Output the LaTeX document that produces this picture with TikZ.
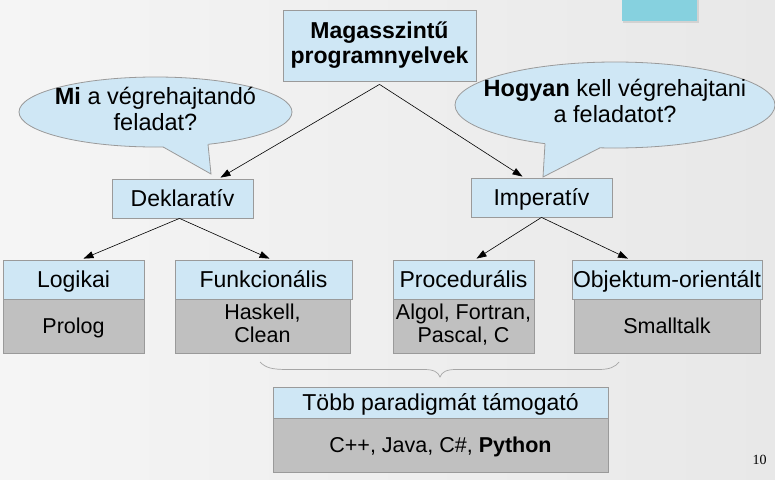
\documentclass[tikz,border=0pt]{standalone}
\usepackage{fontspec}
\setmainfont{Liberation Sans}
\newfontfamily\serifnum{Liberation Serif}
\usetikzlibrary{arrows.meta,calc}
\definecolor{hdr}{HTML}{CFE7F5}
\definecolor{bodyg}{HTML}{C0C0C0}
\definecolor{edgeg}{HTML}{9A9A9A}
\definecolor{tealc}{HTML}{86D1DF}
\definecolor{bgl}{HTML}{F5F5F5}
\definecolor{bgr}{HTML}{E8E8E8}
\newcommand{\topstrut}{\rule{0pt}{0.966em}}
\newcommand{\botstrut}{\rule[-0.25em]{0pt}{0.25em}}
\begin{document}
\begin{tikzpicture}[x=1pt,y=-1pt,
  box/.style={draw=edgeg,line width=0.8pt,inner sep=0pt,align=center,
    execute at begin node=\topstrut,execute at end node=\botstrut},
  hdrbox/.style={box,fill=hdr,font=\fontsize{23}{24.5}\selectfont},
  bodybox/.style={box,fill=bodyg,font=\fontsize{21.5}{23}\selectfont},
  bubtext/.style={inner sep=0pt,align=center,font=\fontsize{23.5}{25.5}\selectfont,
    execute at begin node=\topstrut,execute at end node=\botstrut},
  bubline/.style={draw=edgeg,line width=0.8pt},
  arr/.style={-{Triangle[length=10pt,width=7pt]},line width=0.6pt,black},
  bracestyle/.style={draw=gray!70,line width=0.7pt},
]
\useasboundingbox (0,0) rectangle (775,479);
\shade[left color=bgl,right color=bgr] (0,0) rectangle (775,479);
% top-right decoration
\fill[gray!35] (623,0) rectangle (698.5,22.5);
\fill[tealc] (622,0) rectangle (697,21);

% top node
\node[hdrbox,font=\bfseries\fontsize{23}{24.5}\selectfont,minimum width=193pt,minimum height=71pt] (top) at (379.5,45.5) {Magasszintű\\programnyelvek};

% bubble Mi
\filldraw[fill=hdr,bubline] (155.5,112) ellipse [x radius=136.5,y radius=35];
\fill[hdr] (163,146.9) -- (211,174) -- (208,144.3) -- (208,138) -- (163,138) -- cycle;
\draw[bubline] (163,146.9) -- (211,174) -- (208,144.3);
\node[bubtext] (mi) at (155.5,112) {\textbf{Mi} a végrehajtandó\\feladat?};

% bubble Hogyan
\filldraw[fill=hdr,bubline] (615,105) ellipse [x radius=160,y radius=43];
\fill[hdr] (545,143.7) -- (543,177) -- (600,147.8) -- (600,138) -- (545,138) -- cycle;
\draw[bubline] (545,143.7) -- (543,177) -- (600,147.8);
\node[bubtext] (hogy) at (615,104) {\textbf{Hogyan} kell végrehajtani\\a feladatot?};

% second level
\node[hdrbox,minimum width=141pt,minimum height=39pt] (dekl) at (182.5,198.5) {Deklaratív};
\node[hdrbox,minimum width=141pt,minimum height=39pt] (imp) at (541.5,197.5) {Imperatív};

% bodies
\node[bodybox,minimum width=141pt,minimum height=54pt] (logb) at (73.5,326) {Prolog};
\node[bodybox,minimum width=175pt,minimum height=54pt] (funb) at (262.5,326) {Haskell,\\Clean};
\node[bodybox,minimum width=141pt,minimum height=54pt] (prob) at (463.5,326) {Algol, Fortran,\\Pascal, C};
\node[bodybox,minimum width=186pt,minimum height=54pt] (objb) at (667,326) {Smalltalk};

% headers
\node[hdrbox,minimum width=141pt,minimum height=39pt] (log) at (73.5,279.5) {Logikai};
\node[hdrbox,minimum width=177pt,minimum height=39pt] (fun) at (263.5,279.5) {Funkcionális};
\node[hdrbox,minimum width=141pt,minimum height=39pt] (pro) at (463.5,279.5) {Procedurális};
\node[hdrbox,minimum width=190pt,minimum height=39pt] (obj) at (667,279.5) {Objektum-orientált};

% multi-paradigm
\node[bodybox,minimum width=335pt,minimum height=54pt] (tobbb) at (440.5,445) {C++, Java, C\#, \textbf{Python}};
\node[hdrbox,minimum width=335pt,minimum height=31pt] (tobb) at (440.5,402.5) {Több paradigmát támogató};

% arrows
\draw[arr] ([yshift=-3pt]top.south) -- ([xshift=38pt,yshift=1pt]dekl.north);
\draw[arr] ([yshift=-3pt]top.south) -- ([xshift=-19pt,yshift=1pt]imp.north);
\draw[arr] ([xshift=-3pt]dekl.south) -- ([xshift=10pt,yshift=1pt]log.north);
\draw[arr] ([xshift=-3pt]dekl.south) -- ([xshift=6pt,yshift=1pt]fun.north);
\draw[arr] (imp.south) -- ([xshift=13pt,yshift=1pt]pro.north);
\draw[arr] (imp.south) -- ([xshift=-39pt,yshift=1pt]obj.north);

% brace
\draw[bracestyle] (260,362) .. controls (266,368) and (272,369.5) .. (288,369.5) -- (424,369.5)
  .. controls (434,369.5) and (438,372) .. (440,377) .. controls (442,372) and (446,369.5) .. (456,369.5)
  -- (598,369.5) .. controls (610,369.5) and (615,367) .. (619,362);

% page number
\node[inner sep=0pt,font=\serifnum\fontsize{14}{14}\selectfont] (pg) at (759.5,460) {10};
\end{tikzpicture}
\end{document}
